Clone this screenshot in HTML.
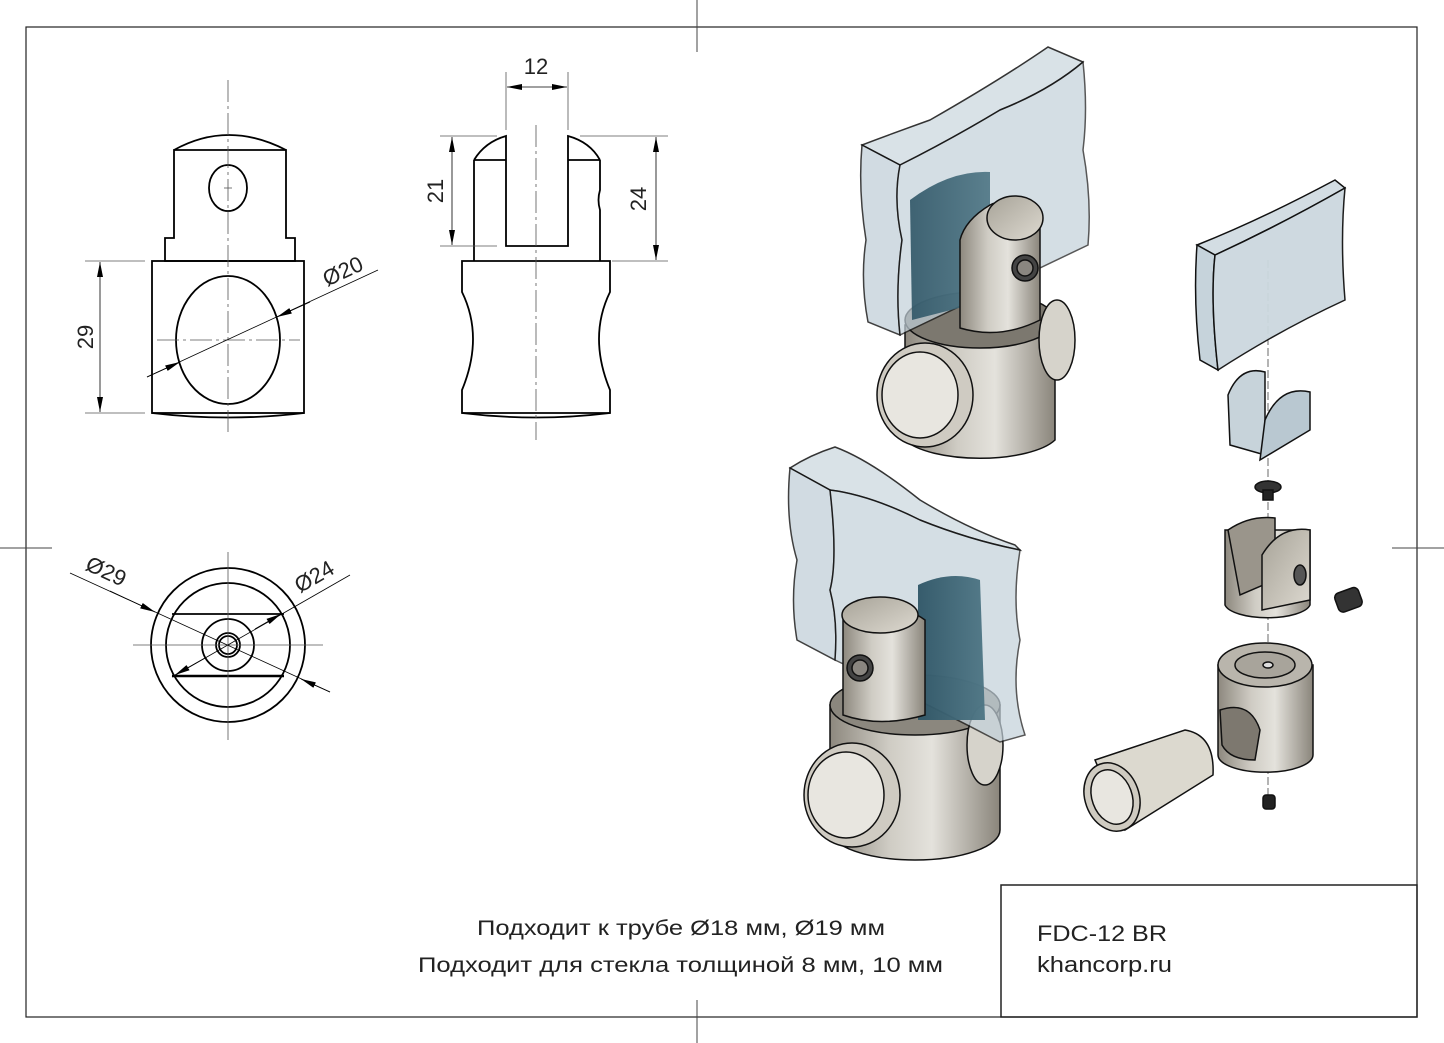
<!DOCTYPE html>
<html><head><meta charset="utf-8"><style>
html,body{margin:0;padding:0;background:#fff}
svg{display:block}
text{font-family:"Liberation Sans",Arial,sans-serif;fill:#222}
</style></head><body>
<svg width="1444" height="1043" viewBox="0 0 1444 1043" xmlns="http://www.w3.org/2000/svg">
<defs>
<linearGradient id="met" x1="0" x2="1" y1="0" y2="0">
<stop offset="0" stop-color="#8d887e"/><stop offset="0.35" stop-color="#cfccc4"/><stop offset="0.6" stop-color="#e4e2dc"/><stop offset="1" stop-color="#8a857b"/></linearGradient>
<linearGradient id="met2" x1="0" x2="1" y1="0" y2="1">
<stop offset="0" stop-color="#a7a398"/><stop offset="1" stop-color="#ddd9d0"/></linearGradient>
<linearGradient id="blue" x1="0" x2="1"><stop offset="0" stop-color="#2e5566"/><stop offset="1" stop-color="#4d7584"/></linearGradient>
<marker id="ar" viewBox="0 0 15 6" refX="15" refY="3" markerWidth="15" markerHeight="6" orient="auto-start-reverse" markerUnits="userSpaceOnUse"><path d="M0,0 L15,3 L0,6 z" fill="#000"/></marker>
</defs>

<rect x="26" y="27" width="1391" height="990" fill="none" stroke="#222" stroke-width="1.2"/>
<g stroke="#444" stroke-width="1">
<line x1="697" y1="0" x2="697" y2="52"/><line x1="697" y1="1000" x2="697" y2="1043"/>
<line x1="0" y1="548" x2="52" y2="548"/><line x1="1392" y1="548" x2="1444" y2="548"/>
</g>

<!-- front view -->
<g fill="none" stroke="#000" stroke-width="1.8">
<path d="M174,150 Q228,120 286,150"/>
<path d="M174,150 L286,150 L286,238 L295,238 L295,261 L165,261 L165,238 L174,238 Z"/>
<ellipse cx="228" cy="188" rx="19" ry="23"/>
<rect x="152" y="261" width="152" height="152"/>
<path d="M152,413 Q228,422 304,413"/>
<ellipse cx="228" cy="340" rx="52" ry="64"/>
</g>
<g stroke="#555" stroke-width="0.8" fill="none">
<line x1="228" y1="80" x2="228" y2="435" stroke-dasharray="22,4,3,4"/>
<line x1="157" y1="340" x2="300" y2="340" stroke-dasharray="22,4,3,4"/>
<line x1="224" y1="188" x2="232" y2="188"/>
<line x1="85" y1="261" x2="145" y2="261"/><line x1="85" y1="413" x2="145" y2="413"/>
<line x1="100" y1="262" x2="100" y2="412" stroke="#000" marker-start="url(#ar)" marker-end="url(#ar)"/>
<line x1="147" y1="377" x2="378" y2="270" stroke="#000"/>
<line x1="147" y1="377" x2="180" y2="362" stroke="#000" marker-end="url(#ar)"/>
<line x1="310" y1="302" x2="277" y2="317" stroke="#000" marker-end="url(#ar)"/>
</g>
<text font-size="22" transform="translate(93,337) rotate(-90)" text-anchor="middle">29</text>
<text font-size="22" transform="translate(346,278) rotate(-25)" text-anchor="middle">Ø20</text>

<!-- side view -->
<g fill="none" stroke="#000" stroke-width="1.8">
<path d="M474,160 Q485,142 506,136 L506,246 L568,246 L568,136 Q590,142 600,160"/>
<line x1="474" y1="160" x2="474" y2="261"/>
<line x1="474" y1="160" x2="506" y2="160"/><line x1="568" y1="160" x2="600" y2="160"/>
<path d="M600,160 L600,190 Q597,200 600,210 L600,261"/>
<path d="M462,261 L610,261 L610,292 Q588,337 610,390 L610,413 L462,413 L462,390 Q484,337 462,292 Z"/>
<path d="M462,413 Q536,422 610,413"/>
</g>
<g stroke="#555" stroke-width="0.8" fill="none">
<line x1="536" y1="125" x2="536" y2="440" stroke-dasharray="22,4,3,4"/>
<line x1="506" y1="72" x2="506" y2="130"/><line x1="568" y1="72" x2="568" y2="130"/>
<line x1="507" y1="87" x2="567" y2="87" stroke="#000" marker-start="url(#ar)" marker-end="url(#ar)"/>
<line x1="440" y1="136" x2="497" y2="136"/><line x1="440" y1="246" x2="497" y2="246"/>
<line x1="452" y1="137" x2="452" y2="245" stroke="#000" marker-start="url(#ar)" marker-end="url(#ar)"/>
<line x1="580" y1="136" x2="668" y2="136"/><line x1="612" y1="261" x2="668" y2="261"/>
<line x1="656" y1="137" x2="656" y2="260" stroke="#000" marker-start="url(#ar)" marker-end="url(#ar)"/>
</g>
<text x="536" y="74" font-size="22" text-anchor="middle">12</text>
<text font-size="22" transform="translate(443,191) rotate(-90)" text-anchor="middle">21</text>
<text font-size="22" transform="translate(646,199) rotate(-90)" text-anchor="middle">24</text>

<!-- bottom view -->
<g fill="none" stroke="#000" stroke-width="1.8">
<circle cx="228" cy="645" r="77"/><circle cx="228" cy="645" r="62"/>
<line x1="172" y1="614" x2="284" y2="614"/><line x1="172" y1="676" x2="284" y2="676" stroke-width="2.4"/>
<circle cx="228" cy="645" r="26"/><circle cx="228" cy="645" r="12"/><circle cx="228" cy="645" r="9"/>
</g>
<g stroke="#555" stroke-width="0.8">
<line x1="228" y1="552" x2="228" y2="740"/><line x1="133" y1="645" x2="323" y2="645"/>
<line x1="70" y1="573" x2="330" y2="692" stroke="#000"/>
<line x1="110" y1="591" x2="155" y2="612" stroke="#000" marker-end="url(#ar)"/>
<line x1="330" y1="692" x2="301" y2="679" stroke="#000" marker-end="url(#ar)"/>
<line x1="172" y1="677" x2="350" y2="575" stroke="#000"/>
<line x1="205" y1="658" x2="175" y2="675" stroke="#000" marker-end="url(#ar)"/>
<line x1="255" y1="629" x2="281" y2="614" stroke="#000" marker-end="url(#ar)"/>
</g>
<text font-size="22" transform="translate(103,578) rotate(25)" text-anchor="middle">Ø29</text>
<text font-size="22" transform="translate(318,583) rotate(-30)" text-anchor="middle">Ø24</text>

<!-- Render 1 (top) -->
<g stroke="#111" stroke-width="1.5">
<path d="M905,325 L905,440 A80,28 0 0 0 1055,440 L1055,320 Z" fill="url(#met)"/>
<ellipse cx="980" cy="320" rx="75" ry="28" fill="#7c786f"/>
<ellipse cx="1057" cy="340" rx="18" ry="40" fill="#d6d3cb"/>
<ellipse cx="925" cy="395" rx="48" ry="52" fill="#cfcbc2"/>
<ellipse cx="920" cy="395" rx="38" ry="43" fill="#e8e6e0"/>
<path d="M862,145 Q880,138 930,120 Q1000,80 1048,47 L1083,62 Q1050,90 1000,110 Q950,140 900,165 Z" fill="#d3dde3" opacity="0.85"/>
<path d="M862,145 L900,165 Q893,200 902,240 Q895,290 900,335 L868,322 Q860,280 866,240 Q858,190 862,145 Z" fill="#c6d3db" opacity="0.8"/>
<path d="M900,165 Q950,140 1000,110 Q1050,90 1083,62 Q1088,110 1083,150 Q1092,200 1088,245 L900,335 Q895,290 902,240 Q893,200 900,165 Z" fill="#c3d1da" opacity="0.7"/>
<path d="M910,200 Q950,170 990,172 L990,300 L912,320 Z" fill="url(#blue)" stroke="none" opacity="0.9"/>
<path d="M960,240 L960,328 Q1000,340 1040,320 L1040,215 Q1010,195 990,205 Q965,220 960,240 Z" fill="url(#met)"/>
<ellipse cx="1015" cy="218" rx="28" ry="22" fill="url(#met2)"/>
<circle cx="1025" cy="268" r="13" fill="#444"/><circle cx="1025" cy="268" r="8" fill="#8a8680"/>
</g>

<!-- Render 2 (bottom) -->
<g stroke="#111" stroke-width="1.5">
<path d="M830,705 L830,830 A85,30 0 0 0 1000,830 L1000,705 Z" fill="url(#met)"/>
<ellipse cx="915" cy="705" rx="85" ry="30" fill="#8b877e"/>
<ellipse cx="985" cy="745" rx="18" ry="40" fill="#d6d3cb"/>
<ellipse cx="852" cy="795" rx="48" ry="52" fill="#cfcbc2"/>
<ellipse cx="846" cy="795" rx="38" ry="43" fill="#e8e6e0"/>
<path d="M790,468 Q810,455 835,447 Q870,460 920,500 Q970,530 1015,545 L1020,550 Q970,540 920,520 Q870,495 830,490 Z" fill="#d3dde3" opacity="0.85"/>
<path d="M790,468 L830,490 Q838,560 830,590 Q838,620 835,660 L797,640 Q790,600 797,560 Q785,520 790,468 Z" fill="#c6d3db" opacity="0.8"/>
<path d="M830,490 Q870,495 920,520 Q970,540 1020,550 Q1012,600 1020,640 Q1010,690 1025,735 L1000,742 Q920,700 835,660 Q838,620 830,590 Q838,560 830,490 Z" fill="#c3d1da" opacity="0.7"/>
<path d="M918,585 Q950,570 980,580 L985,720 L918,720 Z" fill="url(#blue)" stroke="none" opacity="0.95"/>
<path d="M843,620 L843,715 Q880,728 925,715 L925,620 Q890,595 843,620 Z" fill="url(#met)"/>
<ellipse cx="880" cy="615" rx="38" ry="18" fill="url(#met2)"/>
<circle cx="860" cy="668" r="13" fill="#444"/><circle cx="860" cy="668" r="8" fill="#8a8680"/>
</g>

<!-- Exploded -->
<line x1="1268" y1="260" x2="1268" y2="800" stroke="#444" stroke-width="0.8" stroke-dasharray="8,3"/>
<g stroke="#111" stroke-width="1.5">
<path d="M1197,245 Q1260,220 1335,180 L1345,188 Q1280,225 1215,255 Z" fill="#d3dde3"/>
<path d="M1197,245 L1215,255 Q1210,300 1218,370 L1200,360 Q1193,300 1197,245 Z" fill="#c6d3db"/>
<path d="M1215,255 Q1280,225 1345,188 Q1340,240 1345,300 Q1280,330 1218,370 Q1210,300 1215,255 Z" fill="#ccd8df" opacity="0.95"/>
<path d="M1228,395 Q1240,365 1265,372 L1265,455 L1230,445 Z" fill="#c7d3da"/>
<path d="M1265,420 Q1280,385 1310,392 L1310,430 L1260,460 Z" fill="#b9c8d1"/>
<ellipse cx="1268" cy="487" rx="13" ry="6" fill="#333"/>
<rect x="1263" y="490" width="10" height="10" fill="#222"/>
<path d="M1225,530 L1225,605 A43,15 0 0 0 1310,605 L1310,530 Z" fill="url(#met)"/>
<path d="M1228,530 Q1250,515 1275,518 L1275,580 L1240,595 Z" fill="#9a958b"/>
<path d="M1262,555 Q1280,525 1310,530 L1310,600 L1262,610 Z" fill="url(#met2)"/>
<ellipse cx="1300" cy="575" rx="6" ry="10" fill="#555"/>
<rect x="1336" y="590" width="25" height="20" rx="5" transform="rotate(-20 1348 600)" fill="#333"/>
<path d="M1218,665 L1218,755 A47,17 0 0 0 1313,755 L1313,665 Z" fill="url(#met)"/>
<ellipse cx="1265" cy="665" rx="47" ry="22" fill="#b9b5ac"/>
<ellipse cx="1265" cy="665" rx="30" ry="13" fill="#a8a49b"/>
<ellipse cx="1268" cy="665" rx="5" ry="3" fill="#ddd"/>
<path d="M1220,710 Q1250,700 1260,730 L1255,760 Q1230,760 1222,745 Z" fill="#7d786f"/>
<path d="M1095,760 L1185,730 Q1215,735 1213,775 L1125,830 Z" fill="#dcd9cf"/>
<ellipse cx="1112" cy="797" rx="27" ry="35" transform="rotate(-20 1112 797)" fill="#cfcbc1"/>
<ellipse cx="1112" cy="797" rx="20" ry="28" transform="rotate(-20 1112 797)" fill="#e8e6e0"/>
<rect x="1263" y="795" width="12" height="14" rx="3" fill="#222"/>
</g>

<text x="477" y="935" font-size="21" textLength="408" lengthAdjust="spacingAndGlyphs">Подходит к трубе Ø18 мм, Ø19 мм</text>
<text x="418" y="972" font-size="21" textLength="525" lengthAdjust="spacingAndGlyphs">Подходит для стекла толщиной 8 мм, 10 мм</text>

<rect x="1001" y="885" width="416" height="132" fill="none" stroke="#222" stroke-width="1.5"/>
<text x="1037" y="941" font-size="22" textLength="130" lengthAdjust="spacingAndGlyphs">FDC-12 BR</text>
<text x="1037" y="972" font-size="22" textLength="135" lengthAdjust="spacingAndGlyphs">khancorp.ru</text>
</svg>
</body></html>
